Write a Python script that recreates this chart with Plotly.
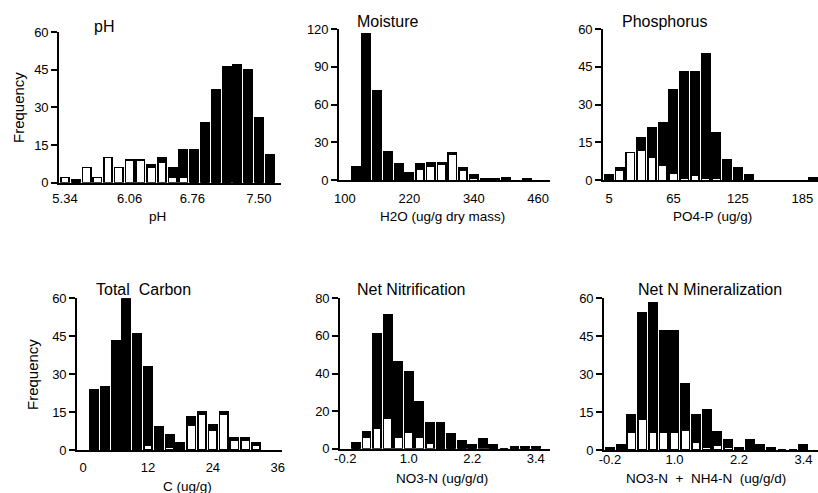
import plotly.graph_objects as go

W, H = 818, 493

# ---------------- data ----------------
ph_bins = [5.34, 5.46, 5.58, 5.70, 5.82, 5.94, 6.06, 6.18, 6.30, 6.42,
           6.54, 6.66, 6.78, 6.90, 7.02, 7.14, 7.26, 7.38, 7.50, 7.62]
ph_white = [2, 0, 6, 2, 10, 6, 9, 9, 6, 8, 2, 2, 0, 0, 0, 0, 0, 0, 0, 0]
ph_black = [0, 1, 0, 0, 0, 0, 0, 0, 1, 2, 4, 11, 13, 24, 37, 46, 47, 45, 26, 11]
ph_ticks = [5.34, 6.06, 6.76, 7.50]
ph_ticktext = ["5.34", "6.06", "6.76", "7.50"]

moist_bins = [120, 140, 160, 180, 200, 220, 240, 260, 280, 300,
              320, 340, 360, 380, 400, 420, 440, 460]
moist_white = [0, 0, 0, 0, 0, 0, 9, 11, 13, 21, 8, 2, 0, 0, 0, 0, 0, 0]
moist_black = [11, 116, 71, 23, 13, 6, 4, 3, 1, 1, 2, 2, 1, 1, 2, 0, 1, 0]
moist_ticks = [100, 220, 340, 460]

phos_bins = [5, 15, 25, 35, 45, 55, 65, 75, 85, 95,
             105, 115, 125, 135, 145, 155, 165, 175, 185, 195]
phos_white = [0, 4, 11, 12, 9, 6, 3, 1, 2, 1, 1, 0, 0, 0, 0, 0, 0, 0, 0, 0]
phos_black = [2, 1, 0, 5, 12, 17, 33, 42, 41, 49, 18, 8, 5, 2, 0, 0, 0, 0, 0, 1]
phos_ticks = [5, 65, 125, 185]

carb_bins = [2, 4, 6, 8, 10, 12, 14, 16, 18, 20, 22, 24, 26, 28, 30, 32]
carb_white = [0, 0, 0, 0, 0, 2, 0, 1, 0, 10, 14, 8, 14, 4, 4, 2]
carb_black = [24, 25, 43, 60, 46, 31, 9, 5, 3, 3, 1, 2, 1, 1, 1, 1]
carb_ticks = [0, 12, 24, 36]

nitr_bins = [0.0, 0.2, 0.4, 0.6, 0.8, 1.0, 1.2, 1.4, 1.6, 1.8,
             2.0, 2.2, 2.4, 2.6, 2.8, 3.0, 3.2, 3.4]
nitr_white = [0, 6, 11, 16, 6, 9, 6, 3, 0, 0, 0, 0, 1, 0, 0, 0, 0, 0]
nitr_black = [3, 3, 50, 55, 40, 32, 19, 11, 14, 8, 4, 2, 4, 2, 0, 1, 1, 1]
n_ticks = [-0.2, 1.0, 2.2, 3.4]

min_bins = [-0.2, 0.0, 0.2, 0.4, 0.6, 0.8, 1.0, 1.2, 1.4, 1.6,
            1.8, 2.0, 2.2, 2.4, 2.6, 2.8, 3.0, 3.2, 3.4]
min_white = [0, 0, 7, 12, 7, 7, 7, 8, 3, 1, 2, 1, 0, 0, 0, 0, 0, 0, 0]
min_black = [1, 2, 7, 42, 51, 40, 40, 18, 11, 15, 5, 3, 1, 4, 2, 1, 0, 0, 2]

FONT = "Liberation Sans, Arial, sans-serif"

panels = [
    dict(title="pH", xtitle="pH", x=ph_bins, w=ph_white, b=ph_black,
         xt=ph_ticks, xtt=ph_ticktext, yr=[0, 60], yd=15,
         px=(59, 281), py=(182.7, 32), xr=[5.273, 7.747],
         tpos=(104, 26), xtpos=(157, 216), std=3, ylab=(19, 108)),
    dict(title="Moisture", xtitle="H2O (ug/g dry mass)", x=moist_bins, w=moist_white, b=moist_black,
         xt=moist_ticks, xtt=[str(v) for v in moist_ticks], yr=[0, 120], yd=30,
         px=(339, 550), py=(180.3, 29), xr=[88.9, 482],
         tpos=(387, 21), xtpos=(442, 216), std=5, ylab=None),
    dict(title="Phosphorus", xtitle="PO4-P (ug/g)", x=phos_bins, w=phos_white, b=phos_black,
         xt=phos_ticks, xtt=[str(v) for v in phos_ticks], yr=[0, 60], yd=15,
         px=(603, 818), py=(180.3, 29), xr=[-0.57, 199.5],
         tpos=(664, 21), xtpos=(712, 216), std=5, ylab=None),
    dict(title="Total  Carbon", xtitle="C (ug/g)", x=carb_bins, w=carb_white, b=carb_black,
         xt=carb_ticks, xtt=[str(v) for v in carb_ticks], yr=[0, 60], yd=15,
         px=(77, 282), py=(450, 298.3), xr=[-1.15, 36.8],
         tpos=(143, 289), xtpos=(187, 486), std=4, ylab=(32, 375)),
    dict(title="Net Nitrification", xtitle="NO3-N (ug/g/d)", x=nitr_bins, w=nitr_white, b=nitr_black,
         xt=n_ticks, xtt=["-0.2", "1.0", "2.2", "3.4"], yr=[0, 80], yd=20,
         px=(340, 550), py=(448.7, 298.3), xr=[-0.30, 3.67],
         tpos=(411, 289), xtpos=(442, 478), std=-3, ylab=None),
    dict(title="Net N Mineralization", xtitle="NO3-N  +  NH4-N  (ug/g/d)", x=min_bins, w=min_white, b=min_black,
         xt=n_ticks, xtt=["-0.2", "1.0", "2.2", "3.4"], yr=[0, 60], yd=15,
         px=(604, 818), py=(450, 298), xr=[-0.31, 3.67],
         tpos=(710, 289), xtpos=(706, 478), std=-4, ylab=None),
]

fig = go.Figure()
layout = dict(
    template="none",
    width=W, height=H, margin=dict(l=0, r=0, t=0, b=0, pad=0, autoexpand=False),
    paper_bgcolor="white", plot_bgcolor="white",
    showlegend=False, barmode="stack", bargap=0.22,
    font=dict(family=FONT, size=13, color="black"),
)
annotations = []

for i, p in enumerate(panels):
    n = i + 1
    xa = "x" if n == 1 else f"x{n}"
    ya = "y" if n == 1 else f"y{n}"
    fig.add_trace(go.Bar(x=p["x"], y=p["w"], xaxis=xa, yaxis=ya, name="white",
                         marker=dict(color="white", line=dict(color="black", width=1.6))))
    fig.add_trace(go.Bar(x=p["x"], y=p["b"], xaxis=xa, yaxis=ya, name="black",
                         marker=dict(color="black", line=dict(color="black", width=1.6))))
    xk = "xaxis" if n == 1 else f"xaxis{n}"
    yk = "yaxis" if n == 1 else f"yaxis{n}"
    layout[xk] = dict(
        domain=[p["px"][0] / W, p["px"][1] / W], anchor=ya, range=p["xr"],
        tickmode="array", tickvals=p["xt"], ticktext=p["xtt"], ticks="",
        showline=True, linecolor="black", linewidth=1.8, showgrid=False, zeroline=False,
        ticklabelstandoff=p["std"], tickfont=dict(size=13, family=FONT, color="black"),
        fixedrange=True, automargin=False,
    )
    layout[yk] = dict(
        domain=[1 - p["py"][0] / H, 1 - p["py"][1] / H], anchor=xa, range=p["yr"],
        tick0=0, dtick=p["yd"], ticks="outside", ticklen=6, tickwidth=1.5, tickcolor="black",
        showline=True, linecolor="black", linewidth=1.6, showgrid=False, zeroline=False,
        tickfont=dict(size=13, family=FONT, color="black"), fixedrange=True, automargin=False,
    )
    annotations.append(dict(text=p["title"], x=p["tpos"][0] / W, y=1 - p["tpos"][1] / H,
                            xref="paper", yref="paper", showarrow=False,
                            xanchor="center", yanchor="middle",
                            font=dict(size=16, family=FONT, color="black")))
    annotations.append(dict(text=p["xtitle"], x=p["xtpos"][0] / W, y=1 - p["xtpos"][1] / H,
                            xref="paper", yref="paper", showarrow=False,
                            xanchor="center", yanchor="middle",
                            font=dict(size=13.5, family=FONT, color="black")))
    if p["ylab"]:
        annotations.append(dict(text="Frequency", x=p["ylab"][0] / W, y=1 - p["ylab"][1] / H,
                                xref="paper", yref="paper", showarrow=False, textangle=-90,
                                xanchor="center", yanchor="middle",
                                font=dict(size=15, family=FONT, color="black")))

layout["annotations"] = annotations
fig.update_layout(**layout)
fig.write_html("out.html", config={"displayModeBar": False},
               post_script="document.body.style.margin='0';document.body.style.overflow='hidden';")
